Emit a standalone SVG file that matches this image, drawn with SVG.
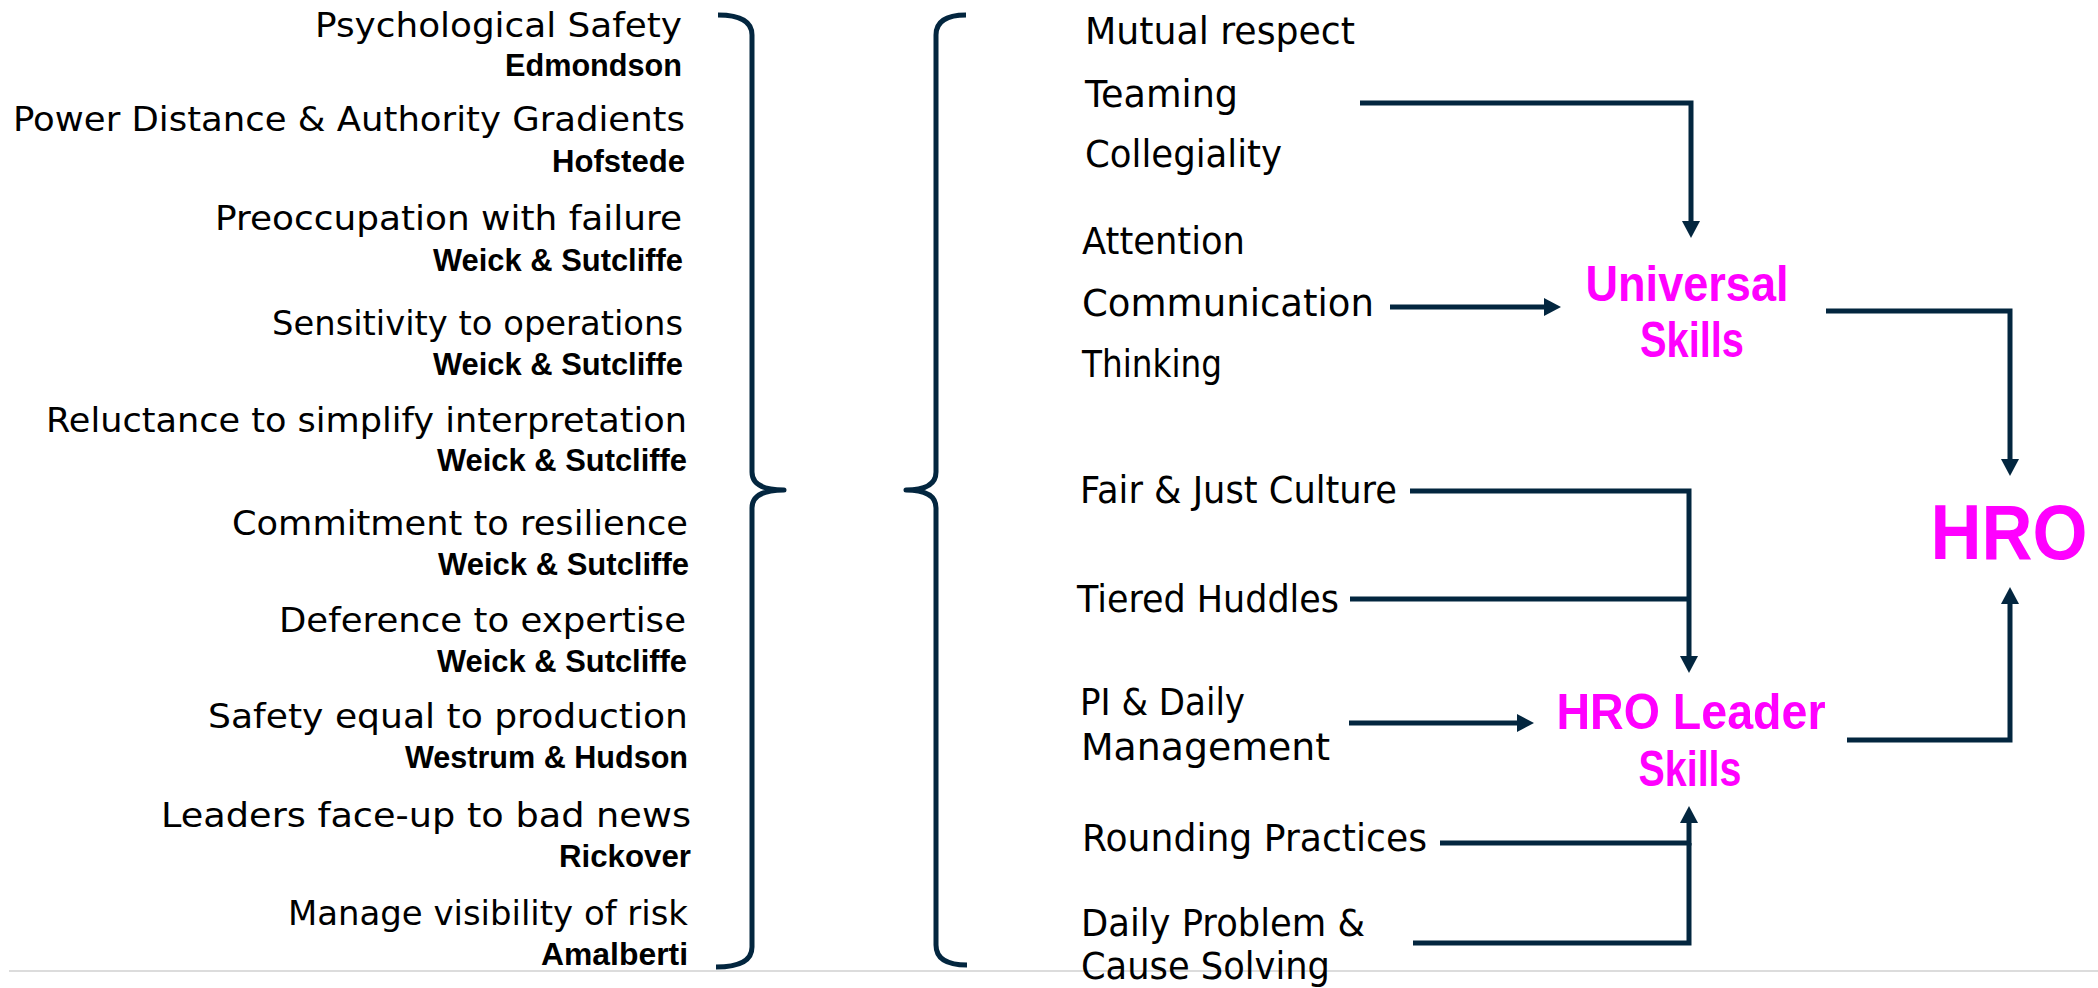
<svg xmlns="http://www.w3.org/2000/svg" width="2098" height="988" viewBox="0 0 2098 988">
<style>
.t{font-family:"DejaVu Sans","Liberation Sans",sans-serif;font-size:34px;fill:#000;text-anchor:end}
.a{font-family:"Liberation Sans",Arial,sans-serif;font-size:31px;font-weight:bold;fill:#000;text-anchor:end}
.r{font-family:"DejaVu Sans","Liberation Sans",sans-serif;font-size:37px;fill:#000}
.m{font-family:"Liberation Sans",Arial,sans-serif;font-size:50px;font-weight:bold;fill:#ff00ff;text-anchor:middle}
.h{font-family:"Liberation Sans",Arial,sans-serif;font-size:77px;font-weight:bold;fill:#ff00ff;text-anchor:middle}
.br{fill:none;stroke:#03263f;stroke-width:5;stroke-linecap:butt;stroke-linejoin:round}
.c{fill:none;stroke:#03263f;stroke-width:5;stroke-linejoin:miter;stroke-linecap:butt}
.c.ar{marker-end:url(#ah)}
</style>
<defs>
<marker id="ah" viewBox="0 0 17 18" refX="0" refY="9" markerWidth="17" markerHeight="18" markerUnits="userSpaceOnUse" orient="auto">
<path d="M0,0 L17,9 L0,18 z" fill="#03263f"/>
</marker>
</defs>
<rect width="2098" height="988" fill="#fff"/>
<line x1="9" y1="971" x2="2098" y2="971" stroke="#dcdcdc" stroke-width="2"/>

<g id="left-concepts">
<g id="l1"><text class="t" x="682" y="37" textLength="367" lengthAdjust="spacingAndGlyphs">Psychological Safety</text><text class="a" x="682" y="76" textLength="177" lengthAdjust="spacingAndGlyphs">Edmondson</text></g>
<g id="l2"><text class="t" x="685" y="131" textLength="672" lengthAdjust="spacingAndGlyphs">Power Distance &amp; Authority Gradients</text><text class="a" x="685" y="172" textLength="133" lengthAdjust="spacingAndGlyphs">Hofstede</text></g>
<g id="l3"><text class="t" x="682" y="230" textLength="467" lengthAdjust="spacingAndGlyphs">Preoccupation with failure</text><text class="a" x="683" y="271" textLength="250" lengthAdjust="spacingAndGlyphs">Weick &amp; Sutcliffe</text></g>
<g id="l4"><text class="t" x="683" y="335" textLength="411" lengthAdjust="spacingAndGlyphs">Sensitivity to operations</text><text class="a" x="683" y="375" textLength="250" lengthAdjust="spacingAndGlyphs">Weick &amp; Sutcliffe</text></g>
<g id="l5"><text class="t" x="687" y="432" textLength="641" lengthAdjust="spacingAndGlyphs">Reluctance to simplify interpretation</text><text class="a" x="687" y="471" textLength="250" lengthAdjust="spacingAndGlyphs">Weick &amp; Sutcliffe</text></g>
<g id="l6"><text class="t" x="688" y="535" textLength="456" lengthAdjust="spacingAndGlyphs">Commitment to resilience</text><text class="a" x="689" y="575" textLength="251" lengthAdjust="spacingAndGlyphs">Weick &amp; Sutcliffe</text></g>
<g id="l7"><text class="t" x="686" y="632" textLength="407" lengthAdjust="spacingAndGlyphs">Deference to expertise</text><text class="a" x="687" y="672" textLength="250" lengthAdjust="spacingAndGlyphs">Weick &amp; Sutcliffe</text></g>
<g id="l8"><text class="t" x="688" y="728" textLength="480" lengthAdjust="spacingAndGlyphs">Safety equal to production</text><text class="a" x="688" y="768" textLength="283" lengthAdjust="spacingAndGlyphs">Westrum &amp; Hudson</text></g>
<g id="l9"><text class="t" x="691" y="827" textLength="530" lengthAdjust="spacingAndGlyphs">Leaders face-up to bad news</text><text class="a" x="691" y="867" textLength="132" lengthAdjust="spacingAndGlyphs">Rickover</text></g>
<g id="l10"><text class="t" x="688" y="925" textLength="400" lengthAdjust="spacingAndGlyphs">Manage visibility of risk</text><text class="a" x="688" y="965" textLength="147" lengthAdjust="spacingAndGlyphs">Amalberti</text></g>
</g>

<g id="braces">
<path class="br" d="M718,15 Q752,15 752,35 L752,472 Q752,490 784,490 Q752,490 752,508 L752,947 Q752,967 716,967"/>
<path class="br" d="M966,15 Q936,15 936,35 L936,472 Q936,490 906,490 Q936,490 936,508 L936,945 Q936,965 967,965"/>
</g>

<g id="right-practices">
<g id="mutual-respect"><text class="r" x="1085" y="44" textLength="270" lengthAdjust="spacingAndGlyphs">Mutual respect</text></g>
<g id="teaming"><text class="r" x="1085" y="107" textLength="153" lengthAdjust="spacingAndGlyphs">Teaming</text></g>
<g id="collegiality"><text class="r" x="1085" y="167" textLength="197" lengthAdjust="spacingAndGlyphs">Collegiality</text></g>
<g id="attention"><text class="r" x="1082" y="254" textLength="163" lengthAdjust="spacingAndGlyphs">Attention</text></g>
<g id="communication"><text class="r" x="1082" y="316" textLength="292" lengthAdjust="spacingAndGlyphs">Communication</text></g>
<g id="thinking"><text class="r" x="1082" y="377" textLength="140" lengthAdjust="spacingAndGlyphs">Thinking</text></g>
<g id="fair-just"><text class="r" x="1080" y="503" textLength="317" lengthAdjust="spacingAndGlyphs">Fair &amp; Just Culture</text></g>
<g id="tiered-huddles"><text class="r" x="1077" y="612" textLength="262" lengthAdjust="spacingAndGlyphs">Tiered Huddles</text></g>
<g id="pi-daily"><text class="r" x="1080" y="715" textLength="165" lengthAdjust="spacingAndGlyphs">PI &amp; Daily</text><text class="r" x="1081" y="760" textLength="249" lengthAdjust="spacingAndGlyphs">Management</text></g>
<g id="rounding"><text class="r" x="1082" y="851" textLength="345" lengthAdjust="spacingAndGlyphs">Rounding Practices</text></g>
<g id="daily-problem"><text class="r" x="1081" y="936" textLength="284" lengthAdjust="spacingAndGlyphs">Daily Problem &amp;</text><text class="r" x="1081" y="979" textLength="249" lengthAdjust="spacingAndGlyphs">Cause Solving</text></g>
</g>

<g id="universal-skills"><text class="m" x="1687" y="301" textLength="203" lengthAdjust="spacingAndGlyphs">Universal</text><text class="m" x="1692" y="357" textLength="104" lengthAdjust="spacingAndGlyphs">Skills</text></g>
<g id="hro-leader-skills"><text class="m" x="1691" y="729" textLength="269" lengthAdjust="spacingAndGlyphs">HRO Leader</text><text class="m" x="1690" y="786" textLength="103" lengthAdjust="spacingAndGlyphs">Skills</text></g>
<g id="hro"><text class="h" x="2009" y="559" textLength="157" lengthAdjust="spacingAndGlyphs">HRO</text></g>

<g id="connectors">
<path class="c ar" d="M1360,103 H1691 V221"/>
<path class="c ar" d="M1390,307 H1544"/>
<path class="c ar" d="M1826,311 H2010 V459"/>
<path class="c ar" d="M1410,491 H1689 V656"/>
<path class="c" d="M1350,599 H1689"/>
<path class="c ar" d="M1349,723 H1517"/>
<path class="c ar" d="M1847,740 H2010 V604"/>
<path class="c ar" d="M1440,843 H1689 V823"/>
<path class="c" d="M1413,943 H1689 V843"/>
</g>
</svg>
